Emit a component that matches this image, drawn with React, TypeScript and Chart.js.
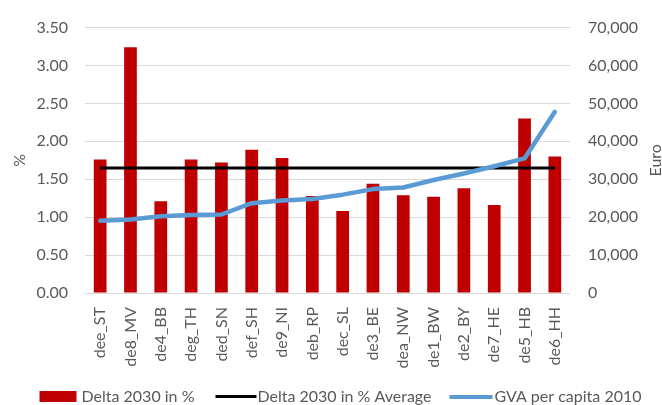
import React, { useEffect, useRef } from "react";
import { Chart, registerables } from "chart.js";

Chart.register(...registerables);

const categories = [
  "dee_ST", "de8_MV", "de4_BB", "deg_TH", "ded_SN", "def_SH", "de9_NI", "deb_RP",
  "dec_SL", "de3_BE", "dea_NW", "de1_BW", "de2_BY", "de7_HE", "de5_HB", "de6_HH",
];
const deltaPct = [1.76, 3.24, 1.21, 1.76, 1.72, 1.89, 1.78, 1.28, 1.08, 1.44, 1.29, 1.27, 1.38, 1.16, 2.3, 1.8];
const deltaAvg = [1.65, 1.65, 1.65, 1.65, 1.65, 1.65, 1.65, 1.65, 1.65, 1.65, 1.65, 1.65, 1.65, 1.65, 1.65, 1.65];
const gvaPerCapita = [19050, 19400, 20260, 20600, 20700, 23700, 24390, 24800, 25940, 27400, 27830, 29800, 31530, 33430, 35500, 47800];
const seriesNames = ["Delta 2030 in %", "Delta 2030 in % Average", "GVA per capita 2010"];
const axisTitles = ["%", "Euro"];

const RED = "#C00000";
const BLACK = "#000000";
const BLUE = "#5B9BD5";
const TEXT = "#595959";
const GRID = "#D9D9D9";
const FONT = "Lato, 'Open Sans', sans-serif";

const BOX_W = 45;
const FONT_SIZE = 16;

// legend swatch: transparent canvas (2*BOX_W wide) centred on the legend box;
// the coloured mark sits with its right edge `gap` px before the label text
function swatch(w: number, h: number, color: string, gap: number): HTMLCanvasElement {
  const c = document.createElement("canvas");
  const cw = BOX_W * 2;
  c.width = cw;
  c.height = Math.max(h, 2) + (h % 2);
  const x = c.getContext("2d")!;
  x.fillStyle = color;
  const right = 1.5 * BOX_W + FONT_SIZE / 2 - gap;
  x.fillRect(right - w, 0, w, h);
  return c;
}

const axisTitlePlugin = {
  id: "axisTitlesCustom",
  afterDraw(chart: any) {
    const { ctx, chartArea } = chart;
    const cy = (chartArea.top + chartArea.bottom) / 2;
    ctx.save();
    ctx.font = `16px ${FONT}`;
    ctx.fillStyle = TEXT;
    ctx.textAlign = "center";
    ctx.textBaseline = "middle";
    const pos: [number, string][] = [
      [20, axisTitles[0]],
      [656, axisTitles[1]],
    ];
    pos.forEach(([x, t]) => {
      ctx.save();
      ctx.translate(x, cy);
      ctx.rotate(-Math.PI / 2);
      ctx.fillText(t, 0, 0);
      ctx.restore();
    });
    ctx.restore();
  },
};

export default function App() {
  const ref = useRef<HTMLCanvasElement | null>(null);

  useEffect(() => {
    if (!ref.current) return;
    const swatches = [swatch(37, 11, RED, 5), swatch(41, 3, BLACK, 1), swatch(43, 4, BLUE, 2)];
    const colors = [RED, BLACK, BLUE];
    const chart = new Chart(ref.current, {
      type: "bar",
      data: {
        labels: categories,
        datasets: [
          {
            type: "bar",
            label: seriesNames[0],
            data: deltaPct,
            backgroundColor: RED,
            yAxisID: "y",
            barPercentage: 0.42,
            categoryPercentage: 1,
            order: 2,
          },
          {
            type: "line",
            label: seriesNames[1],
            data: deltaAvg,
            borderColor: BLACK,
            borderWidth: 3,
            pointRadius: 0,
            yAxisID: "y",
            order: 1,
          },
          {
            type: "line",
            label: seriesNames[2],
            data: gvaPerCapita,
            borderColor: BLUE,
            borderWidth: 4.5,
            pointRadius: 0,
            borderJoinStyle: "round",
            borderCapStyle: "round",
            yAxisID: "y1",
            order: 0,
          },
        ] as any,
      },
      options: {
        responsive: false,
        animation: false,
        devicePixelRatio: 1,
        layout: { padding: { top: 21, left: 8, right: 0, bottom: 0 } },
        font: { family: FONT, size: FONT_SIZE },
        plugins: {
          tooltip: { enabled: false },
          legend: {
            position: "bottom",
            labels: {
              usePointStyle: true,
              pointStyleWidth: BOX_W,
              padding: 10,
              color: TEXT,
              font: { family: FONT, size: FONT_SIZE },
              generateLabels: () =>
                seriesNames.map((t, i) => ({
                  text: t,
                  pointStyle: swatches[i] as any,
                  fillStyle: colors[i],
                  strokeStyle: colors[i],
                  lineWidth: 0,
                  hidden: false,
                  datasetIndex: i,
                  fontColor: TEXT,
                })),
            },
          },
        },
        scales: {
          x: {
            grid: { display: false, drawTicks: false },
            border: { display: false },
            ticks: {
              minRotation: 90,
              maxRotation: 90,
              autoSkip: false,
              padding: 14,
              color: TEXT,
              font: { family: FONT, size: FONT_SIZE },
            },
            afterFit(s: any) {
              s.height = 86;
            },
          },
          y: {
            position: "left",
            min: 0,
            max: 3.5,
            grid: { color: GRID, lineWidth: 1, drawTicks: false },
            border: { display: false },
            ticks: {
              stepSize: 0.5,
              padding: 17,
              color: TEXT,
              font: { family: FONT, size: FONT_SIZE },
              callback: (v: any) => Number(v).toFixed(2),
            },
            afterFit(s: any) {
              s.width = 77;
            },
          },
          y1: {
            position: "right",
            min: 0,
            max: 70000,
            grid: { drawOnChartArea: false, drawTicks: false },
            border: { display: false },
            ticks: {
              stepSize: 10000,
              padding: 18,
              color: TEXT,
              font: { family: FONT, size: FONT_SIZE },
              callback: (v: any) => Number(v).toLocaleString("en-US"),
            },
            afterFit(s: any) {
              s.width = 92;
            },
          },
        },
      } as any,
      plugins: [axisTitlePlugin],
    });
    return () => chart.destroy();
  }, []);

  return (
    <div style={{ position: "absolute", left: 0, top: 0, width: 662, height: 415, background: "#fff" }}>
      <canvas ref={ref} width={662} height={415} style={{ display: "block" }} />
    </div>
  );
}
